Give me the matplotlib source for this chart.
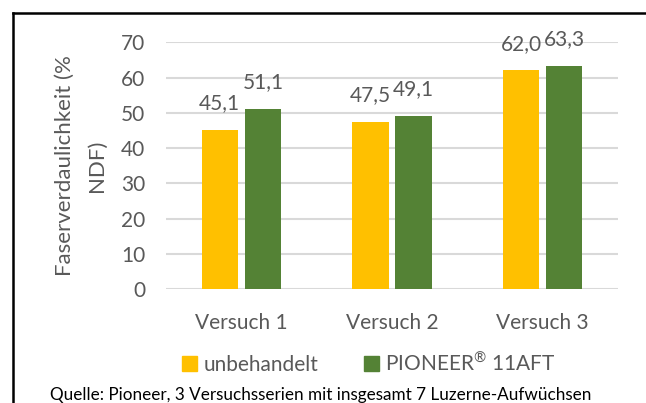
import numpy as np
import matplotlib
matplotlib.use("Agg")
import matplotlib.pyplot as plt
from matplotlib.lines import Line2D
from matplotlib.patches import Patch

# Data
categories = ["Versuch 1", "Versuch 2", "Versuch 3"]
unbehandelt = [45.1, 47.5, 62.0]
pioneer = [51.1, 49.1, 63.3]
series_names = ["unbehandelt", "PIONEER$^{\\circledR}$ 11AFT"]
y_ticks = [0, 10, 20, 30, 40, 50, 60, 70]

YELLOW = "#FFC000"
GREEN = "#548235"
TEXT = "#595959"
W, H = 646, 403

plt.rcParams["font.family"] = ["Lato", "DejaVu Sans"]
plt.rcParams["mathtext.fontset"] = "custom"
plt.rcParams["mathtext.rm"] = "Lato"

fig = plt.figure(figsize=(W / 100, H / 100), dpi=100)
ax = fig.add_axes([166 / W, 1 - 289 / H, (618 - 166) / W, (289 - 42.3) / H])

x = np.arange(len(categories))
width = 0.24
off = 0.143
b1 = ax.bar(x - off, unbehandelt, width, color=YELLOW, zorder=3)
b2 = ax.bar(x + off, pioneer, width, color=GREEN, zorder=3)

for bars, vals in ((b1, unbehandelt), (b2, pioneer)):
    for rect, v in zip(bars, vals):
        ax.annotate(f"{v:.1f}".replace(".", ","),
                    (rect.get_x() + rect.get_width() / 2, v),
                    xytext=(0, 12), textcoords="offset points",
                    ha="center", va="bottom", fontsize=15, color=TEXT)

ax.set_xlim(-0.5, 2.5)
ax.set_ylim(0, 70)
ax.set_yticks(y_ticks)
ax.set_xticks(x)
ax.set_xticklabels(categories)
ax.tick_params(axis="both", length=0, labelsize=15, labelcolor=TEXT)
ax.tick_params(axis="x", pad=17)
ax.tick_params(axis="y", pad=15)
ax.yaxis.grid(True, color="#D9D9D9", linewidth=1.5, zorder=0)
for s in ax.spines.values():
    s.set_visible(False)
ax.set_ylabel("Faserverdaulichkeit (%\nNDF)", fontsize=16, color=TEXT,
              labelpad=10, linespacing=1.75)

handles = [Patch(color=YELLOW), Patch(color=GREEN)]
fig.legend(handles, series_names, loc="center", bbox_to_anchor=(369 / W, 1 - 363 / H),
           ncol=2, frameon=False, fontsize=15, labelcolor=TEXT,
           handlelength=0.7, handleheight=0.7, handletextpad=0.3, columnspacing=2.2)

fig.text(50 / W, 1 - 395 / H,
         "Quelle: Pioneer, 3 Versuchsserien mit insgesamt 7 Luzerne-Aufwüchsen",
         ha="left", va="center", fontsize=12.3, color="black")

# outer frame (left and top edges visible)
fig.add_artist(Line2D([12.5 / W, 12.5 / W], [0, 1 - 12.7 / H], transform=fig.transFigure,
                      color="black", linewidth=1.8))
fig.add_artist(Line2D([12.5 / W, 1], [1 - 12.7 / H, 1 - 12.7 / H], transform=fig.transFigure,
                      color="black", linewidth=1.8))

fig.savefig("out.png", dpi=100)
